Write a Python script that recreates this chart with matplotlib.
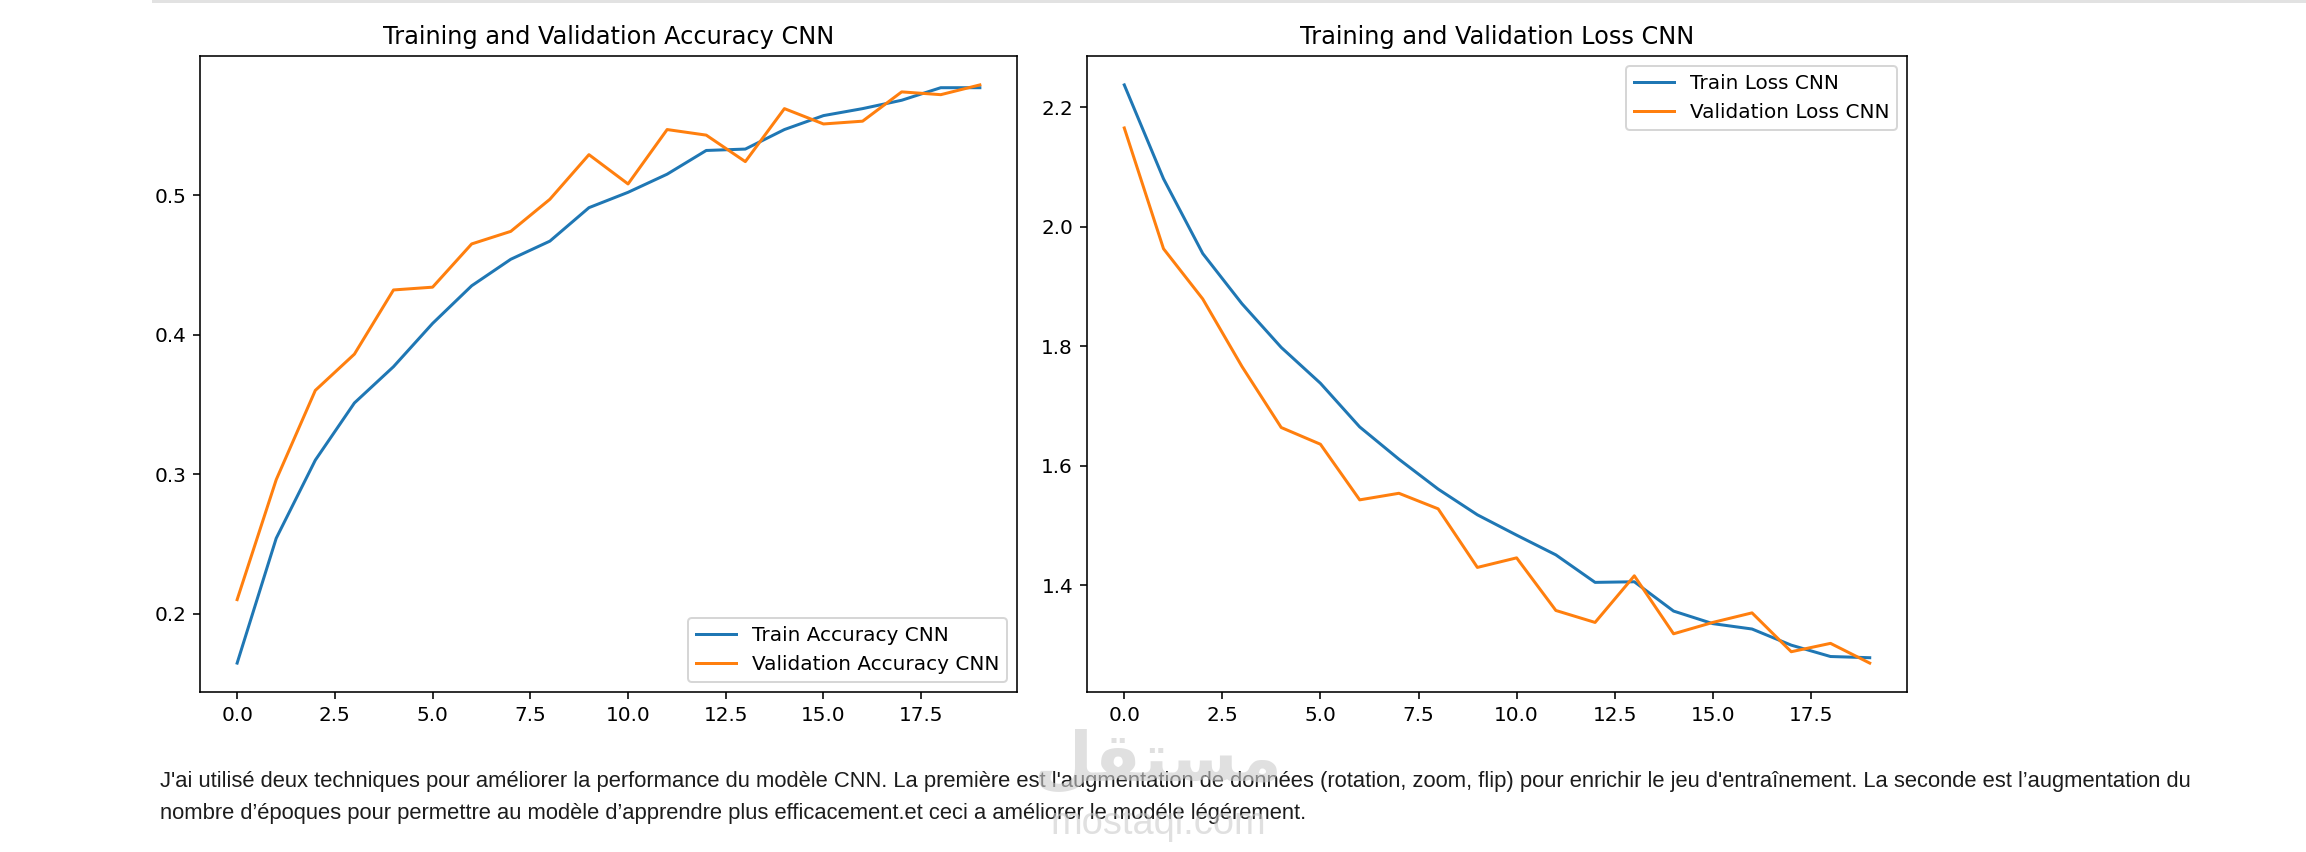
#!/usr/bin/env python3
'''Training / validation curves for the CNN, with the note under them'''

import matplotlib
matplotlib.use("Agg")
import matplotlib.pyplot as plt
from matplotlib.lines import Line2D

W, H, DPI = 2306, 852, 144

epochs = list(range(20))

train_acc = [0.1645, 0.254, 0.310, 0.351, 0.377, 0.408, 0.435, 0.454, 0.467, 0.491,
             0.502, 0.515, 0.532, 0.533, 0.547, 0.557, 0.562, 0.568, 0.577, 0.577]
val_acc = [0.210, 0.296, 0.360, 0.386, 0.432, 0.434, 0.465, 0.474, 0.497, 0.529,
           0.508, 0.547, 0.543, 0.524, 0.562, 0.551, 0.553, 0.574, 0.572, 0.579]

train_loss = [2.237, 2.080, 1.955, 1.871, 1.798, 1.738, 1.665, 1.611, 1.561, 1.518,
              1.484, 1.451, 1.405, 1.406, 1.357, 1.336, 1.327, 1.300, 1.281, 1.279]
val_loss = [2.165, 1.963, 1.879, 1.766, 1.664, 1.636, 1.543, 1.554, 1.528, 1.430,
            1.446, 1.358, 1.338, 1.416, 1.319, 1.338, 1.354, 1.289, 1.303, 1.270]

note_line1 = ("J'ai utilisé deux techniques pour améliorer la performance du modèle CNN. "
              "La première est l'augmentation de données (rotation, zoom, flip) pour enrichir "
              "le jeu d'entraînement. La seconde est l\u2019augmentation du")
note_line2 = ("nombre d\u2019époques pour permettre au modèle d\u2019apprendre plus "
              "efficacement.et ceci a améliorer le modéle légérement.")


def px(x0, y0, x1, y1):
    # pixel box (top-left origin) -> figure fraction rect
    return [x0 / W, 1 - y1 / H, (x1 - x0) / W, (y1 - y0) / H]


fig = plt.figure(figsize=(W / DPI, H / DPI), dpi=DPI)

ax1 = fig.add_axes(px(200, 56, 1017, 692))
ax1.plot(epochs, train_acc, label="Train Accuracy CNN")
ax1.plot(epochs, val_acc, label="Validation Accuracy CNN")
ax1.set_title("Training and Validation Accuracy CNN")
ax1.legend(loc="lower right")

ax2 = fig.add_axes(px(1087, 56, 1907, 692))
ax2.plot(epochs, train_loss, label="Train Loss CNN")
ax2.plot(epochs, val_loss, label="Validation Loss CNN")
ax2.set_title("Training and Validation Loss CNN")
ax2.legend(loc="upper right")

# page rule at the very top
fig.add_artist(Line2D([153 / W, 1], [1 - 1 / H, 1 - 1 / H], transform=fig.transFigure,
                      color="#e2e2e2", lw=1.5))

txt = dict(family=["Liberation Sans", "DejaVu Sans"], fontsize=11.0, color="#1c1c1c",
           va="center", ha="left")
fig.text(160 / W, 1 - 782 / H, note_line1, **txt)
fig.text(160 / W, 1 - 813 / H, note_line2, **txt)

# faint site watermark, drawn over the note like in the screenshot
logo = "\ufede\ufed8\ufe98\ufeb4\ufee3"
fig.text(1158 / W, 1 - 762 / H, logo, family="DejaVu Sans", fontsize=34,
         color="#cccccc", alpha=0.6, ha="center", va="center", fontweight="bold")
fig.text(1158 / W, 1 - 824 / H, "mostaql.com", family=["Liberation Sans", "DejaVu Sans"],
         fontsize=19, color="#cccccc", alpha=0.6, ha="center", va="center")

fig.savefig("out.png", dpi=DPI)
